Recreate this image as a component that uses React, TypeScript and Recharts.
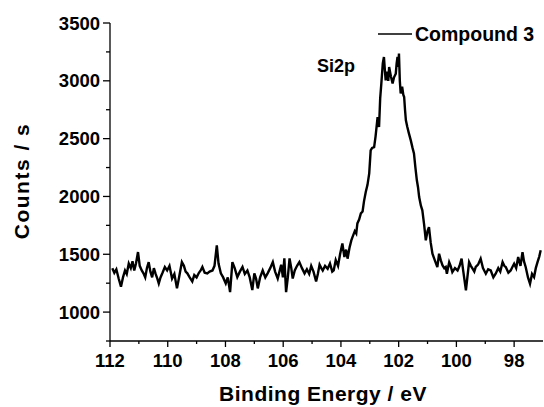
import React from 'react';
import { LineChart, Line, XAxis, YAxis, Customized } from 'recharts';

const energies = [
  111.92, 111.85, 111.78, 111.7, 111.62, 111.55, 111.48, 111.42, 111.35, 111.28,
  111.22, 111.16, 111.1, 111.03, 110.97, 110.9, 110.84, 110.78, 110.72, 110.66,
  110.6, 110.54, 110.48, 110.42, 110.36, 110.31, 110.25, 110.18, 110.1, 110.02,
  109.94, 109.85, 109.77, 109.68, 109.6, 109.51, 109.44, 109.38, 109.32, 109.24,
  109.15, 109.08, 109.0, 108.92, 108.86, 108.8, 108.72, 108.63, 108.55, 108.45,
  108.38, 108.3, 108.24, 108.16, 108.08, 107.99, 107.92, 107.84, 107.76, 107.68,
  107.59, 107.5, 107.41, 107.33, 107.24, 107.16, 107.07, 107.0, 106.94, 106.88,
  106.8, 106.71, 106.62, 106.54, 106.45, 106.36, 106.28, 106.19, 106.13, 106.07,
  106.01, 105.96, 105.9, 105.84, 105.78, 105.72, 105.67, 105.6, 105.52, 105.44,
  105.35, 105.26, 105.18, 105.1, 105.03, 104.95, 104.86, 104.8, 104.74, 104.68,
  104.63, 104.55, 104.46, 104.38, 104.3, 104.25, 104.18, 104.1, 104.03, 103.95,
  103.88, 103.82, 103.77, 103.7, 103.64, 103.6, 103.52, 103.47, 103.43, 103.37,
  103.31, 103.25, 103.2, 103.14, 103.08, 103.02, 102.97, 102.92, 102.85, 102.8,
  102.73, 102.68, 102.64, 102.6, 102.55, 102.51, 102.48, 102.45, 102.4, 102.36,
  102.33, 102.27, 102.21, 102.16, 102.1, 102.07, 102.04, 102.01, 101.99, 101.96,
  101.93, 101.88, 101.84, 101.81, 101.78, 101.75, 101.7, 101.65, 101.58, 101.52,
  101.47, 101.42, 101.37, 101.33, 101.29, 101.23, 101.18, 101.12, 101.06, 101.0,
  100.95, 100.89, 100.83, 100.75, 100.66, 100.6, 100.54, 100.48, 100.42, 100.37,
  100.33, 100.25, 100.2, 100.14, 100.05, 99.96, 99.89, 99.82, 99.76, 99.67,
  99.62, 99.56, 99.5, 99.44, 99.38, 99.33, 99.25, 99.16, 99.08, 98.98,
  98.9, 98.81, 98.72, 98.64, 98.55, 98.48, 98.4, 98.34, 98.29, 98.2,
  98.12, 98.06, 98.0, 97.93, 97.86, 97.78, 97.71, 97.66, 97.6, 97.52,
  97.45, 97.38, 97.31, 97.25, 97.19, 97.13, 97.08,
];

// counts per second at each energy above
const counts = [
  1380, 1340, 1370, 1290, 1220, 1300, 1360, 1330, 1420, 1380,
  1440, 1360, 1420, 1519, 1400, 1360, 1335, 1300, 1380, 1432,
  1350, 1300, 1380, 1330, 1290, 1248, 1300, 1340, 1390, 1360,
  1400, 1290, 1330, 1205, 1310, 1432, 1400, 1350, 1335, 1300,
  1265, 1320, 1300, 1340, 1360, 1390, 1340, 1335, 1350, 1360,
  1400, 1577, 1420, 1335, 1300, 1248, 1300, 1173, 1432, 1380,
  1303, 1350, 1390, 1330, 1360, 1300, 1190, 1335, 1290, 1205,
  1300, 1360, 1300, 1335, 1380, 1432, 1350, 1290, 1350, 1410,
  1300, 1464, 1173, 1300, 1464, 1380, 1290, 1360, 1400, 1432,
  1380, 1335, 1370, 1330, 1400, 1350, 1265, 1330, 1410, 1380,
  1360, 1400, 1375, 1420, 1350, 1360, 1450, 1400, 1500, 1594,
  1476, 1540, 1462, 1560, 1620, 1649, 1700, 1680, 1767, 1800,
  1854, 1870, 1960, 2038, 2100, 2200, 2399, 2420, 2427, 2520,
  2687, 2600, 2850, 2978, 3150, 3206, 3100, 3004, 3080, 3000,
  3119, 3040, 2976, 3030, 3062, 3150, 3206, 3120, 3235, 3000,
  2890, 2950, 2880, 2860, 2750, 2658, 2600, 2550, 2485, 2420,
  2372, 2250, 2140, 2080, 1995, 1920, 1880, 1760, 1620, 1700,
  1735, 1600, 1505, 1450, 1390, 1505, 1447, 1404, 1380, 1390,
  1332, 1432, 1400, 1346, 1380, 1360, 1400, 1462, 1350, 1188,
  1300, 1432, 1400, 1375, 1350, 1390, 1410, 1462, 1380, 1332,
  1370, 1360, 1300, 1332, 1380, 1350, 1432, 1400, 1390, 1340,
  1360, 1390, 1418, 1380, 1476, 1400, 1519, 1440, 1390, 1300,
  1245, 1330, 1303, 1380, 1432, 1480, 1534,
];

const xTicks = [98, 99, 100, 101, 102, 103, 104, 105, 106, 107, 108, 109, 110, 111, 112];
const yTicks = [750, 1000, 1250, 1500, 1750, 2000, 2250, 2500, 2750, 3000, 3250, 3500];

const seriesName = 'Compound 3';
const peakLabel = 'Si2p';

const data = energies.map((e, i) => ({ energy: e, counts: counts[i] }));

const FONT = '"Liberation Sans", Arial, sans-serif';

const XTick = (props: any) => {
  const { x, y, payload } = props;
  const major = payload.value % 2 === 0;
  return (
    <g>
      <line x1={x} y1={y} x2={x} y2={y + (major ? 6 : 3)} stroke="#000" strokeWidth={1.3} />
      {major && (
        <text x={x} y={y + 26} textAnchor="middle" fontFamily={FONT} fontWeight="bold" fontSize={18.5} fill="#000">
          {payload.value}
        </text>
      )}
    </g>
  );
};

const YTick = (props: any) => {
  const { x, y, payload } = props;
  const major = payload.value % 500 === 0;
  return (
    <g>
      <line x1={x - (major ? 7 : 4)} y1={y} x2={x} y2={y} stroke="#000" strokeWidth={1.3} />
      {major && (
        <text x={x - 10} y={y + 6.5} textAnchor="end" fontFamily={FONT} fontWeight="bold" fontSize={18.5} fill="#000">
          {payload.value}
        </text>
      )}
    </g>
  );
};

// titles, legend and the peak annotation
const Overlay = () => (
  <g fontFamily={FONT} fontWeight="bold" fill="#000">
    <text x={323} y={401} textAnchor="middle" fontSize={21} letterSpacing={0.5}>
      Binding Energy / eV
    </text>
    <text x={29} y={181} textAnchor="middle" fontSize={21} letterSpacing={1.5} transform="rotate(-90, 29, 181)">
      Counts / s
    </text>
    <line x1={378} y1={34} x2={412} y2={34} stroke="#000" strokeWidth={1.5} />
    <text x={415} y={41} fontSize={19.5}>{seriesName}</text>
    <text x={317} y={72} fontSize={18}>{peakLabel}</text>
  </g>
);

export default function App() {
  return (
    <div style={{ position: 'absolute', left: 0, top: 0, width: 544, height: 407, background: '#fff' }}>
      <LineChart width={544} height={407} data={data} margin={{ top: 23, right: 1, bottom: 0, left: 0 }}>
        <XAxis
          dataKey="energy"
          type="number"
          domain={[97, 112]}
          reversed
          allowDataOverflow
          ticks={xTicks}
          interval={0}
          tick={<XTick />}
          tickLine={false}
          tickSize={0}
          tickMargin={0}
          height={66}
          axisLine={{ stroke: '#000', strokeWidth: 1.3 }}
        />
        <YAxis
          type="number"
          domain={[750, 3500]}
          allowDataOverflow
          ticks={yTicks}
          interval={0}
          tick={<YTick />}
          tickLine={false}
          tickSize={0}
          tickMargin={0}
          width={110}
          axisLine={{ stroke: '#000', strokeWidth: 1.3 }}
        />
        <Line
          type="linear"
          dataKey="counts"
          stroke="#000"
          strokeWidth={2.4}
          dot={false}
          isAnimationActive={false}
        />
        <Customized component={Overlay} />
      </LineChart>
    </div>
  );
}
